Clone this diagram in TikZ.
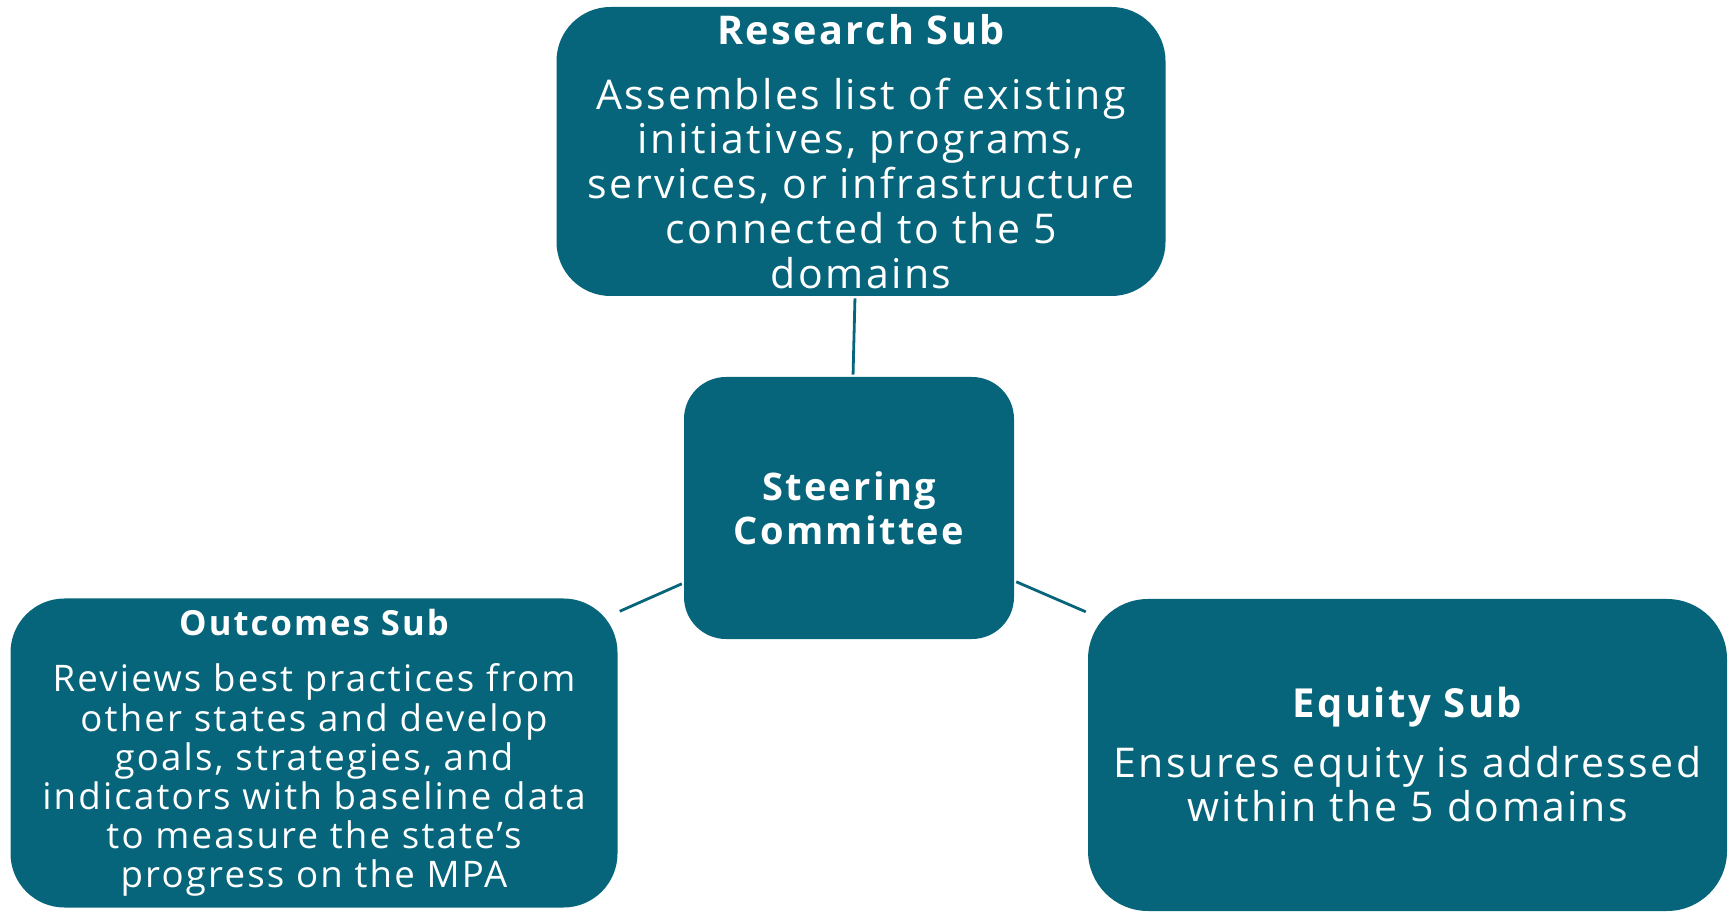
\documentclass[tikz,border=0pt]{standalone}
\usepackage{fontspec}
\setmainfont{Open Sans}[LetterSpace=6]
\usepackage{tikz}
\usetikzlibrary{positioning}
\definecolor{mpateal}{RGB}{6,101,122}
\tikzset{
	subbox/.style={rectangle, rounded corners=27pt, fill=mpateal, text=white, align=center, inner sep=0pt},
	link/.style={draw=mpateal, line width=1.4pt, shorten <=1pt, shorten >=1pt}
}
\begin{document}
\begin{tikzpicture}
		\useasboundingbox (0,0) rectangle (864.5pt,455.5pt);
		\node [subbox, rounded corners=21pt, minimum width=165pt, minimum height=131pt, font=\fontsize{19}{22}\selectfont\bfseries] at (424.5pt,201.5pt) (1Steer) {Steering\\Committee};
		\node [subbox, minimum width=304.5pt, minimum height=144.5pt, font=\fontsize{20.5}{22.4}\selectfont] at (430.5pt,379.75pt) (2Res) {{\fontsize{19.8}{22.4}\selectfont\bfseries Research Sub}\\[10pt]Assembles list of existing\\initiatives, programs,\\services, or infrastructure\\connected to the 5\\domains};
		\node [subbox, minimum width=303.5pt, minimum height=154.5pt, font=\fontsize{18.3}{19.6}\selectfont] at (157pt,79pt) (2Out) {{\fontsize{17.3}{19.6}\selectfont\bfseries Outcomes Sub}\\[8.5pt]Reviews best practices from\\other states and develop\\goals, strategies, and\\indicators with baseline data\\to measure the state’s\\progress on the MPA};
		\node [subbox, rounded corners=30pt, minimum width=319.5pt, minimum height=156pt, font=\fontsize{20.5}{22}\selectfont] at (703.75pt,78pt) (2Eq) {{\fontsize{20}{22}\selectfont\bfseries Equity Sub}\\[8pt]Ensures equity is addressed\\within the 5 domains};
		\draw [link] ([xshift=-3pt]2Res.south) -- ([xshift=2pt]1Steer.north);
		\draw [link] ([yshift=-37.5pt]1Steer.west) -- ([yshift=-7pt]2Out.north east);
		\draw [link] ([yshift=-36.5pt]1Steer.east) -- ([yshift=-7pt]2Eq.north west);
\end{tikzpicture}
\end{document}
